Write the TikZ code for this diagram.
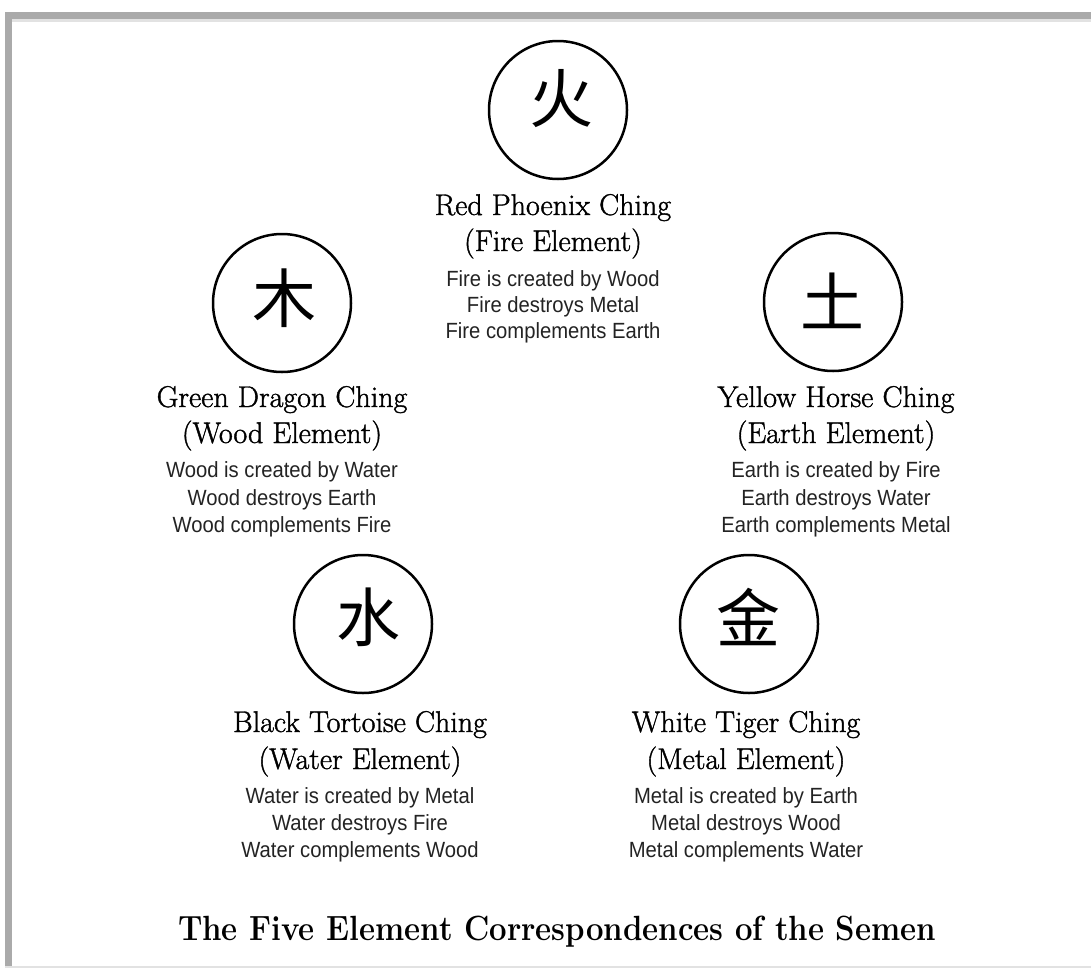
\documentclass[tikz,border=0pt]{standalone}
\usepackage{fontspec}
\usepackage{graphicx}
\usetikzlibrary{positioning}
\newfontfamily\cjk{Noto Sans CJK SC}
\newfontfamily\titleserif[FakeBold=1.3]{Latin Modern Roman}
\newfontfamily\narrowsans[FakeStretch=0.92]{Liberation Sans}
\definecolor{framegray}{RGB}{170,170,170}
\definecolor{framelight}{RGB}{226,226,226}
\definecolor{rulegray}{RGB}{35,35,35}

\begin{document}
\begin{tikzpicture}[x=1pt, y=-1pt,
  elemcircle/.style={circle, draw, line width=2.5pt, minimum size=138pt, inner sep=0pt},
  glyph/.style={inner sep=0pt, font=\cjk\fontsize{64}{64}\selectfont},
  chingname/.style={anchor=base, inner sep=0pt, font=\titleserif\fontsize{30}{36}\selectfont},
  chingrule/.style={anchor=base, inner sep=0pt, text=rulegray, font=\narrowsans\fontsize{22}{27}\selectfont}]
  \useasboundingbox (0,0) rectangle (1091,969);
  % frame: heavy on top and left, thin at the bottom
  \fill[framegray] (5,12) rectangle (1091,19);
  \fill[framegray] (5,12) rectangle (12,967);
  \fill[framelight] (12,19) rectangle (1091,22);
  \draw[framelight, line width=1.5pt] (5,967) -- (1091,967);

  % fire
  \node[elemcircle] (fire) at (558,110) {};
  \node[glyph] (fire-char) at (561,99) {火};
  \node[chingname] (fire-t1) at (553,215) {Red Phoenix Ching};
  \node[chingname] (fire-t2) at (553,251) {(Fire Element)};
  \node[chingrule] (fire-a) at (553,286) {Fire is created by Wood};
  \node[chingrule] (fire-b) at (553,312) {Fire destroys Metal};
  \node[chingrule] (fire-c) at (553,338) {Fire complements Earth};

  % wood
  \node[elemcircle] (wood) at (282,303) {};
  \node[glyph] (wood-char) at (284,298) {木};
  \node[chingname] (wood-t1) at (282,407) {Green Dragon Ching};
  \node[chingname] (wood-t2) at (282,443) {(Wood Element)};
  \node[chingrule] (wood-a) at (282,477) {Wood is created by Water};
  \node[chingrule] (wood-b) at (282,505) {Wood destroys Earth};
  \node[chingrule] (wood-c) at (282,532) {Wood complements Fire};

  % earth
  \node[elemcircle] (earth) at (833,302) {};
  \node[glyph] (earth-char) at (832,301) {土};
  \node[chingname] (earth-t1) at (836,407) {Yellow Horse Ching};
  \node[chingname] (earth-t2) at (836,443) {(Earth Element)};
  \node[chingrule] (earth-a) at (836,477) {Earth is created by Fire};
  \node[chingrule] (earth-b) at (836,505) {Earth destroys Water};
  \node[chingrule] (earth-c) at (836,532) {Earth complements Metal};

  % water
  \node[elemcircle] (water) at (363,624) {};
  \node[glyph] (water-char) at (368,617) {水};
  \node[chingname] (water-t1) at (360,732) {Black Tortoise Ching};
  \node[chingname] (water-t2) at (360,769) {(Water Element)};
  \node[chingrule] (water-a) at (360,803) {Water is created by Metal};
  \node[chingrule] (water-b) at (360,830) {Water destroys Fire};
  \node[chingrule] (water-c) at (360,857) {Water complements Wood};

  % metal
  \node[elemcircle] (metal) at (749,624) {};
  \node[glyph] (metal-char) at (748,617) {金};
  \node[chingname] (metal-t1) at (746,732) {White Tiger Ching};
  \node[chingname] (metal-t2) at (746,769) {(Metal Element)};
  \node[chingrule] (metal-a) at (746,803) {Metal is created by Earth};
  \node[chingrule] (metal-b) at (746,830) {Metal destroys Wood};
  \node[chingrule] (metal-c) at (746,857) {Metal complements Water};

  \node[anchor=base, inner sep=0pt, font=\bfseries\fontsize{35}{40}\selectfont] (caption) at (557,940)
    {\scalebox{0.89}[1]{The Five Element Correspondences of the Semen}};
\end{tikzpicture}
\end{document}
